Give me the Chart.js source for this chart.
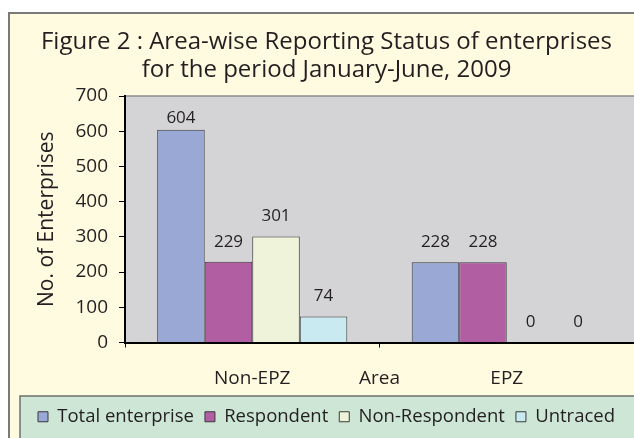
<!DOCTYPE html>
<html>
<head>
<meta charset="utf-8">
<script src="https://cdn.jsdelivr.net/npm/chart.js@4.4.1/dist/chart.umd.min.js"></script>
<style>
  html, body { margin: 0; padding: 0; background: #ffffff; }
  #wrap { width: 634px; height: 438px; }
</style>
</head>
<body>
<div id="wrap"><canvas id="chart" width="634" height="438"></canvas></div>
<script>
// Data
const categories = ["Non-EPZ", "EPZ"]
const seriesNames = ["Total enterprise", "Respondent", "Non-Respondent", "Untraced"]
const totalEnterprise = [604, 228]
const respondent = [229, 228]
const nonRespondent = [301, 0]
const untraced = [74, 0]
const yMax = 700
const yStep = 100

const FONT = "'Open Sans', 'DejaVu Sans', sans-serif"
const TEXT = "#231f20"

// Background boxes (outer frame, plot area, legend panel)
const frames = {
  id: "frames",
  beforeDraw(chart) {
    const ctx = chart.ctx
    const a = chart.chartArea
    ctx.save()
    ctx.fillStyle = "#ffffff"
    ctx.fillRect(0, 0, chart.width, chart.height)
    ctx.fillStyle = "#fffbe1"
    ctx.fillRect(9, 13, chart.width, chart.height)
    ctx.strokeStyle = "#7a7a7a"
    ctx.lineWidth = 2
    ctx.strokeRect(9, 13, chart.width + 10, chart.height + 10)
    // plot area
    ctx.fillStyle = "#d4d4d6"
    ctx.fillRect(a.left, a.top, a.right - a.left + 5, a.bottom - a.top)
    ctx.strokeStyle = "#8c8c8c"
    ctx.lineWidth = 1.5
    ctx.beginPath()
    ctx.moveTo(a.left, a.top)
    ctx.lineTo(chart.width, a.top)
    ctx.stroke()
    // legend panel
    const lg = chart.legend
    ctx.fillStyle = "#cde6d6"
    ctx.fillRect(20, lg.top - 0.5, chart.width, chart.height)
    ctx.strokeStyle = "#6f6f6f"
    ctx.lineWidth = 1.5
    ctx.strokeRect(20, lg.top - 0.5, chart.width + 10, chart.height)
    ctx.restore()
  }
}

// Value labels above the bars
const valueLabels = {
  id: "valueLabels",
  afterDatasetsDraw(chart) {
    const ctx = chart.ctx
    ctx.save()
    ctx.font = "17px " + FONT
    ctx.fillStyle = TEXT
    ctx.textAlign = "center"
    ctx.textBaseline = "middle"
    chart.data.datasets.forEach((ds, i) => {
      chart.getDatasetMeta(i).data.forEach((bar, j) => {
        let y = bar.y - 20
        if (y < chart.chartArea.top + 22) y = chart.chartArea.top + 22
        ctx.fillText(String(ds.data[j]), bar.x, y)
      })
    })
    ctx.restore()
  }
}

const colors = ["#99a8d4", "#b25ea2", "#eff3da", "#c8eaf0"]
const values = [totalEnterprise, respondent, nonRespondent, untraced]

new Chart(document.getElementById("chart"), {
  type: "bar",
  data: {
    labels: categories,
    datasets: seriesNames.map((name, i) => ({
      label: name,
      data: values[i],
      backgroundColor: colors[i],
      borderColor: "#3a3a3a",
      borderWidth: 1,
      categoryPercentage: 0.747,
      barPercentage: 1,
    })),
  },
  options: {
    responsive: false,
    animation: false,
    events: [],
    layout: { padding: { left: 19, top: 13, right: 0, bottom: 2 } },
    plugins: {
      title: {
        display: true,
        text: ["Figure 2 : Area-wise Reporting Status of enterprises", "for the period January-June, 2009"],
        color: TEXT,
        font: { family: FONT, size: 24, weight: "normal", lineHeight: 28 / 24 },
        padding: { top: 15, bottom: 12 },
      },
      legend: {
        position: "bottom",
        labels: {
          color: TEXT,
          font: { family: FONT, size: 18.5 },
          boxWidth: 10,
          boxHeight: 10,
          padding: 11,
        },
      },
      tooltip: { enabled: false },
    },
    scales: {
      x: {
        afterFit(scale) { scale.height = 54 },
        grid: { drawOnChartArea: false, tickLength: 5, color: "#000000", offset: true },
        border: { color: "#000000", width: 2 },
        ticks: { color: TEXT, font: { family: FONT, size: 19 }, padding: 20 },
        title: {
          display: true,
          text: "Area",
          color: TEXT,
          font: { family: FONT, size: 19 },
          padding: { top: 0, bottom: 7 },
        },
      },
      y: {
        min: 0,
        max: yMax,
        afterFit(scale) { scale.width = 106 },
        grid: { drawOnChartArea: false, tickLength: 6, color: "#000000" },
        border: { color: "#000000", width: 2 },
        ticks: { stepSize: yStep, color: TEXT, font: { family: FONT, size: 19 }, padding: 11 },
        title: {
          display: true,
          text: "No. of Enterprises",
          color: TEXT,
          font: { family: FONT, size: 21 },
          padding: { top: 15, bottom: 0 },
        },
      },
    },
  },
  plugins: [frames, valueLabels],
})
</script>
</body>
</html>
